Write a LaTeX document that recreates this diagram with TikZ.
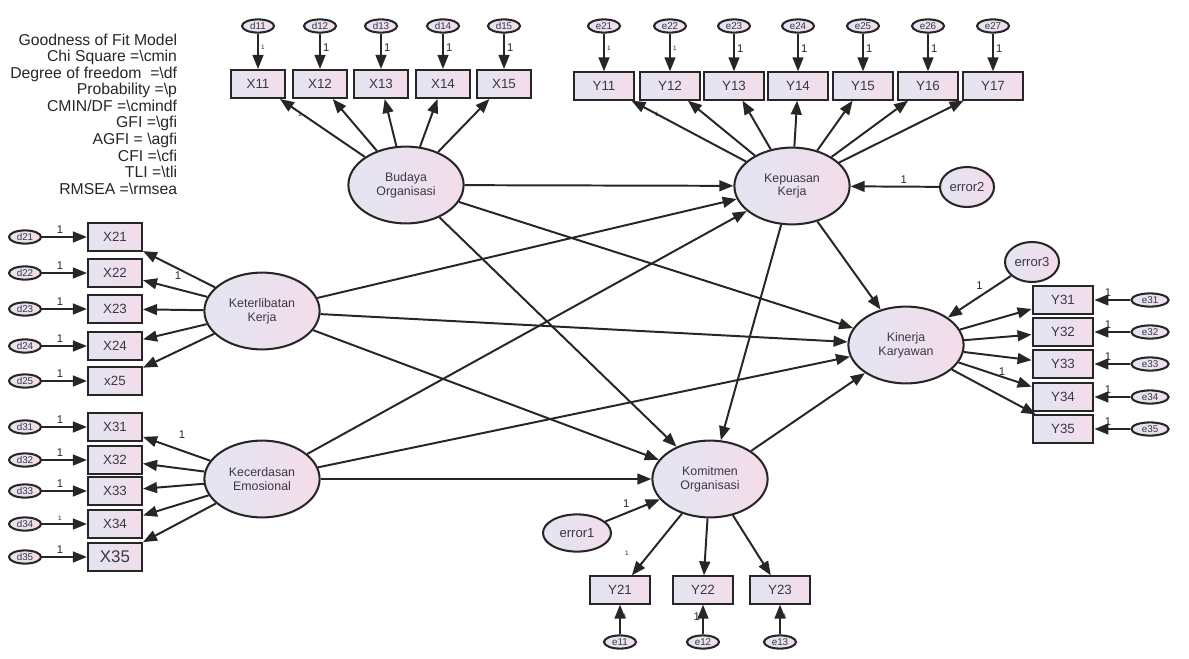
\documentclass[tikz,border=0pt]{standalone}
\usepackage{fontspec}
\setmainfont{Liberation Sans}
\usetikzlibrary{arrows.meta,positioning,shapes.geometric}
\definecolor{edge}{HTML}{262626}
\definecolor{ink}{HTML}{383848}
\definecolor{fillL}{HTML}{E3E5F1}
\definecolor{fillR}{HTML}{F4DCEA}
\tikzset{>={Triangle[length=3.5mm,width=2.7mm]},
  every node/.style={font=\fontsize{8.8}{9.8}\selectfont,text=ink},
  shade/.style={draw=edge,line width=1.45pt,left color=fillL,right color=fillR},
  obs/.style={shade,rectangle,minimum width=1.35cm,minimum height=.7cm,inner sep=0pt,font=\fontsize{9.5}{10}\selectfont},
  obsw/.style={obs,minimum width=1.52cm,minimum height=.68cm},
  latent/.style={shade,ellipse,minimum width=2.88cm,minimum height=1.92cm,inner sep=0pt,align=center},
  err/.style={shade,ellipse,minimum width=.8cm,minimum height=.33cm,inner sep=0pt,font=\fontsize{7}{7}\selectfont},
  dist/.style={shade,ellipse,minimum width=1.35cm,minimum height=1cm,inner sep=0pt,font=\fontsize{9.3}{10}\selectfont},
  link/.style={->,draw=edge,line width=1.4pt},
  one/.style={font=\fontsize{8}{8}\selectfont,inner sep=1.5pt,text=edge},
  tinyone/.style={font=\fontsize{4.5}{5}\selectfont,inner sep=1.5pt,text=edge}}

\begin{document}
\begin{tikzpicture}[x=0.025cm,y=-0.025cm]
\useasboundingbox (0,0) rectangle (1189,658);
% fit summary
\node[anchor=north east,align=right,text=edge,font=\fontsize{11.2}{11.75}\selectfont] (gof) at (182,29)
  {Goodness of Fit Model\\Chi Square =\textbackslash cmin\\Degree of freedom\ \ =\textbackslash df\\
   Probability =\textbackslash p\\CMIN/DF =\textbackslash cmindf\\GFI =\textbackslash gfi\\
   AGFI = \textbackslash agfi\\CFI =\textbackslash cfi\\TLI =\textbackslash tli\\RMSEA =\textbackslash rmsea};
% latent variables
\node[latent] (bud) at (406,185) {Budaya\\Organisasi};
\node[latent] (kep) at (792,186) {Kepuasan\\Kerja};
\node[latent] (ket) at (262,311) {Keterlibatan\\Kerja};
\node[latent] (kec) at (262,479) {Kecerdasan\\Emosional};
\node[latent] (kin) at (906,345) {Kinerja\\Karyawan};
\node[latent] (kom) at (710,479) {Komitmen\\Organisasi};
\node[dist,minimum width=1.7cm,minimum height=.93cm] (er1) at (577,533) {error1};
\node[dist] (er2) at (967,187) {error2};
\node[dist] (er3) at (1032,262) {error3};
% Budaya Organisasi
\foreach \i/\x in {1/258,2/320,3/381,4/443,5/504}{
  \node[obs] (x1\i) at (\x,84) {X1\i};
  \node[err] (d1\i) at (\x,26) {d1\i};
  \draw[link] (bud) -- (x1\i);}
\draw[link] (d11) -- (x11) node[tinyone,pos=.4,right] {1};
\foreach \i in {2,...,5} \draw[link] (d1\i) -- (x1\i) node[one,pos=.4,right] {1};
\node[tinyone] (l11) at (300,114) {1};
% Kepuasan Kerja
\foreach \i/\x in {1/604,2/670,3/734,4/798,5/863,6/928,7/993}{
  \node[obsw] (y1\i) at (\x,86) {Y1\i};
  \node[err] (e2\i) at (\x,26) {e2\i};
  \draw[link] (kep) -- (y1\i);}
\foreach \i in {1,2} \draw[link] (e2\i) -- (y1\i) node[tinyone,pos=.4,right] {1};
\foreach \i in {3,...,7} \draw[link] (e2\i) -- (y1\i) node[one,pos=.4,right] {1};
\node[tinyone] (l21) at (657,114) {1};
% Keterlibatan Kerja
\foreach \i/\y/\t in {1/237/X21,2/273/X22,3/309/X23,4/346/X24,5/381/x25}{
  \node[obs] (x2\i) at (115,\y) {\t};
  \node[err] (d2\i) at (25,\y) {d2\i};
  \draw[link] (d2\i) -- (x2\i) node[one,pos=.4,above] {1};
  \draw[link] (ket) -- (x2\i);}
\node[one] (l22) at (178,276) {1};
% Kecerdasan Emosional
\foreach \i/\y in {1/427,2/460,3/491,4/524}{
  \node[obs] (x3\i) at (115,\y) {X3\i};
  \node[err] (d3\i) at (25,\y) {d3\i};
  \draw[link] (kec) -- (x3\i);}
\node[obs,font=\fontsize{12}{13}\selectfont] (x35) at (115,557) {X35};
\node[err] (d35) at (25,557) {d35};
\draw[link] (kec) -- (x35);
\foreach \i in {1,2,3,5} \draw[link] (d3\i) -- (x3\i) node[one,pos=.4,above] {1};
\draw[link] (d34) -- (x34) node[tinyone,pos=.4,above] {1};
\node[one] (l31) at (182,435) {1};
% Kinerja Karyawan
\foreach \i/\y in {1/300,2/332,3/364,4/397,5/429}{
  \node[obsw] (y3\i) at (1063,\y) {Y3\i};
  \node[err,minimum width=.93cm] (e3\i) at (1150,\y) {e3\i};
  \draw[link] (e3\i) -- (y3\i) node[one,pos=.62,above] {1};
  \draw[link] (kin) -- (y3\i);}
\node[one] (l34) at (1002,372) {1};
% Komitmen Organisasi
\foreach \i/\x in {1/620,2/703,3/780}{
  \node[obsw] (y2\i) at (\x,590) {Y2\i};
  \node[err] (e1\i) at (\x,642) {e1\i};
  \draw[link] (kom) -- (y2\i);}
\draw[link] (e11) -- (y21) node[tinyone,pos=.6,right] {1};
\draw[link] (e12) -- (y22) node[one,pos=.6,left] {1};
\draw[link] (e13) -- (y23) node[tinyone,pos=.6,right] {1};
\node[tinyone] (l41) at (627,553) {1};
% structural paths
\foreach \a in {bud,ket,kec}{
  \draw[link] (\a) -- (kep);
  \draw[link] (\a) -- (kin);
  \draw[link] (\a) -- (kom);}
\draw[link] (kep) -- (kin);
\draw[link] (kep) -- (kom);
\draw[link] (kom) -- (kin);
\draw[link] (er1) -- (kom) node[one,pos=.5,above left] {1};
\draw[link] (er2) -- (kep) node[one,pos=.4,above] {1};
\draw[link] (er3) -- (kin) node[one,pos=.4,above left] {1};
\end{tikzpicture}
\end{document}
